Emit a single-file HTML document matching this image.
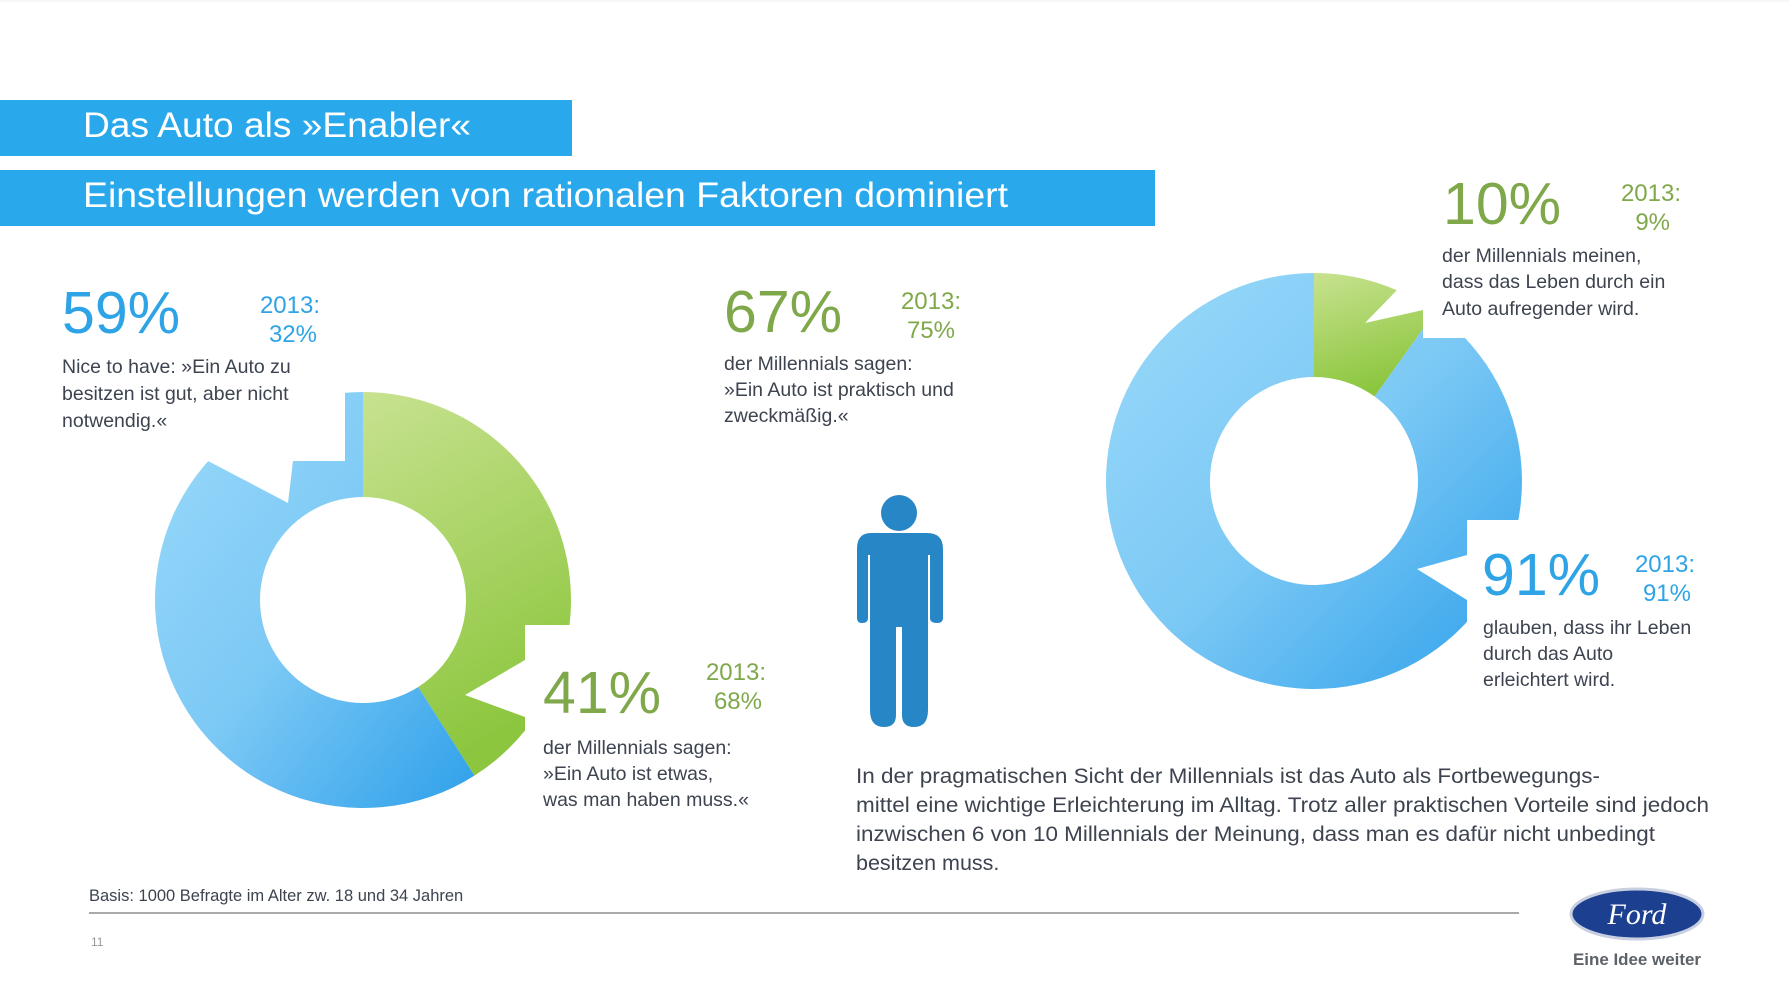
<!DOCTYPE html>
<html><head><meta charset="utf-8"><style>
html,body{margin:0;padding:0;background:#fff;}
svg{display:block;font-family:"Liberation Sans",Arial,sans-serif;}
</style></head><body>
<svg id="chart" width="1789" height="1006" viewBox="0 0 1789 1006">
<defs>
<linearGradient id="gBlue" x1="0" y1="0" x2="1" y2="1"><stop offset="0" stop-color="#9ad9fa"/><stop offset="0.5" stop-color="#7cc9f5"/><stop offset="1" stop-color="#2ea0ea"/></linearGradient>
<linearGradient id="gGreen" x1="0" y1="0" x2="0.3" y2="1"><stop offset="0" stop-color="#c8e290"/><stop offset="1" stop-color="#8cc63e"/></linearGradient>
</defs>
<line x1="0" y1="1" x2="1789" y2="1" stroke="#eee"/>
<g id="donuts"></g>
<g id="masks"></g>
<rect x="0" y="100" width="572" height="56" fill="#29a9eb"/>
<text x="83" y="137" font-size="35" fill="#fff" textLength="388" lengthAdjust="spacingAndGlyphs">Das Auto als »Enabler«</text>
<rect x="0" y="170" width="1155" height="56" fill="#29a9eb"/>
<text x="83" y="207" font-size="35" fill="#fff" textLength="925" lengthAdjust="spacingAndGlyphs">Einstellungen werden von rationalen Faktoren dominiert</text>

<g>
<text x="62" y="333" font-size="59" fill="#2ea3e6">59%</text>
<text x="320" y="313" font-size="24" fill="#2ea3e6" text-anchor="end">2013:</text>
<text x="317" y="342" font-size="24" fill="#2ea3e6" text-anchor="end">32%</text>
<text font-size="19.5" fill="#3d4450"><tspan x="62" y="373">Nice to have: »Ein Auto zu</tspan><tspan x="62" y="400">besitzen ist gut, aber nicht</tspan><tspan x="62" y="427">notwendig.«</tspan></text>
</g>
<g>
<text x="724" y="332" font-size="59" fill="#7fa84a">67%</text>
<text x="961" y="309" font-size="24" fill="#7fa84a" text-anchor="end">2013:</text>
<text x="955" y="338" font-size="24" fill="#7fa84a" text-anchor="end">75%</text>
<text font-size="19.5" fill="#3d4450"><tspan x="724" y="370">der Millennials sagen:</tspan><tspan x="724" y="396">»Ein Auto ist praktisch und</tspan><tspan x="724" y="422">zweckmäßig.«</tspan></text>
</g>
<g>
<text x="543" y="713" font-size="59" fill="#7fa84a">41%</text>
<text x="766" y="680" font-size="24" fill="#7fa84a" text-anchor="end">2013:</text>
<text x="762" y="709" font-size="24" fill="#7fa84a" text-anchor="end">68%</text>
<text font-size="19.5" fill="#3d4450"><tspan x="543" y="754">der Millennials sagen:</tspan><tspan x="543" y="780">»Ein Auto ist etwas,</tspan><tspan x="543" y="806">was man haben muss.«</tspan></text>
</g>
<g>
<text x="1443" y="224" font-size="59" fill="#7fa84a">10%</text>
<text x="1681" y="201" font-size="24" fill="#7fa84a" text-anchor="end">2013:</text>
<text x="1670" y="230" font-size="24" fill="#7fa84a" text-anchor="end">9%</text>
<text font-size="19.5" fill="#3d4450"><tspan x="1442" y="262">der Millennials meinen,</tspan><tspan x="1442" y="288">dass das Leben durch ein</tspan><tspan x="1442" y="315">Auto aufregender wird.</tspan></text>
</g>
<g>
<text x="1482" y="595" font-size="59" fill="#2ea3e6">91%</text>
<text x="1695" y="572" font-size="24" fill="#2ea3e6" text-anchor="end">2013:</text>
<text x="1691" y="601" font-size="24" fill="#2ea3e6" text-anchor="end">91%</text>
<text font-size="19.5" fill="#3d4450"><tspan x="1483" y="634">glauben, dass ihr Leben</tspan><tspan x="1483" y="660">durch das Auto</tspan><tspan x="1483" y="686">erleichtert wird.</tspan></text>
</g>

<g fill="#2787c6">
<circle cx="899" cy="513" r="18"/>
<path d="M871 533 H927 Q943 533 943 549 V618 Q943 623 937 623 Q930 623 930 618 V555 H928 V710 Q928 727 914 727 Q902 727 902 715 V627 H896 V715 Q896 727 884 727 Q870 727 870 710 V555 H868 V618 Q868 623 862 623 Q857 623 857 618 V549 Q857 533 871 533 Z"/>
</g>

<text font-size="21.5" fill="#3d4450">
<tspan x="856" y="783" textLength="744" lengthAdjust="spacingAndGlyphs">In der pragmatischen Sicht der Millennials ist das Auto als Fortbewegungs-</tspan>
<tspan x="856" y="812" textLength="853" lengthAdjust="spacingAndGlyphs">mittel eine wichtige Erleichterung im Alltag. Trotz aller praktischen Vorteile sind jedoch</tspan>
<tspan x="856" y="841" textLength="799" lengthAdjust="spacingAndGlyphs">inzwischen 6 von 10 Millennials der Meinung, dass man es dafür nicht unbedingt</tspan>
<tspan x="856" y="870">besitzen muss.</tspan>
</text>
<text x="89" y="901" font-size="16.5" fill="#3d4450">Basis: 1000 Befragte im Alter zw. 18 und 34 Jahren</text>
<line x1="89" y1="913" x2="1519" y2="913" stroke="#aaa" stroke-width="2"/>
<text x="91" y="946" font-size="12" fill="#999">11</text>
<g>
<ellipse cx="1637" cy="914" rx="66" ry="25" fill="#1d3f8f" stroke="#c7cfe0" stroke-width="3"/>
<text x="1637" y="924" font-size="30" font-style="italic" font-family="Liberation Serif, serif" fill="#fff" text-anchor="middle">Ford</text>
<text x="1637" y="965" font-size="17" font-weight="bold" fill="#5d6168" text-anchor="middle" textLength="128" lengthAdjust="spacingAndGlyphs">Eine Idee weiter</text>
</g>
</svg>
<script>
const donut1Labels = ["muss haben", "nice to have"];
const donut1Values = [41, 59];
const donut2Labels = ["aufregender", "erleichtert"];
const donut2Values = [10, 91];

const NS = "http://www.w3.org/2000/svg";
const fills = ["url(#gGreen)", "url(#gBlue)"];
function arcPath(cx, cy, r0, r1, a0, a1) {
  const p = (r, a) => [cx + r * Math.sin(a), cy - r * Math.cos(a)];
  const large = (a1 - a0) > Math.PI ? 1 : 0;
  const [x0, y0] = p(r1, a0), [x1, y1] = p(r1, a1), [x2, y2] = p(r0, a1), [x3, y3] = p(r0, a0);
  return `M${x0} ${y0} A${r1} ${r1} 0 ${large} 1 ${x1} ${y1} L${x2} ${y2} A${r0} ${r0} 0 ${large} 0 ${x3} ${y3} Z`;
}
function drawDonut(values, labels, cx, cy, r0, r1, name) {
  const g = document.getElementById("donuts");
  const total = values.reduce((a, b) => a + b, 0);
  let a = 0;
  values.forEach((v, i) => {
    const a1 = a + v / total * Math.PI * 2;
    const path = document.createElementNS(NS, "path");
    path.setAttribute("d", arcPath(cx, cy, r0, r1, a, Math.min(a1, Math.PI * 2 - 1e-4)));
    path.setAttribute("fill", fills[i]);
    
    
    g.appendChild(path);
    a = a1;
  });
}
drawDonut(donut1Values, donut1Labels, 363, 600, 103, 208, "donut-left");
drawDonut(donut2Values, donut2Labels, 1314, 481, 104, 208, "donut-right");

const maskPolys = [
  "0,240 345,240 345,461 293,461 288,503 208,461 0,461",
  "525,625 900,625 900,900 525,900 525,717 465,695 525,660",
  "1397,240 1789,240 1789,338 1423,338 1423,310 1365,323 1397,290",
  "1467,520 1789,520 1789,1006 1467,1006 1467,600 1417,569 1467,555"
];
const mg = document.getElementById("masks");
maskPolys.forEach((pts, i) => {
  const pg = document.createElementNS(NS, "polygon");
  pg.setAttribute("points", pts);
  pg.setAttribute("fill", "#fff");
  
  
  mg.appendChild(pg);
});
</script>
</body></html>
